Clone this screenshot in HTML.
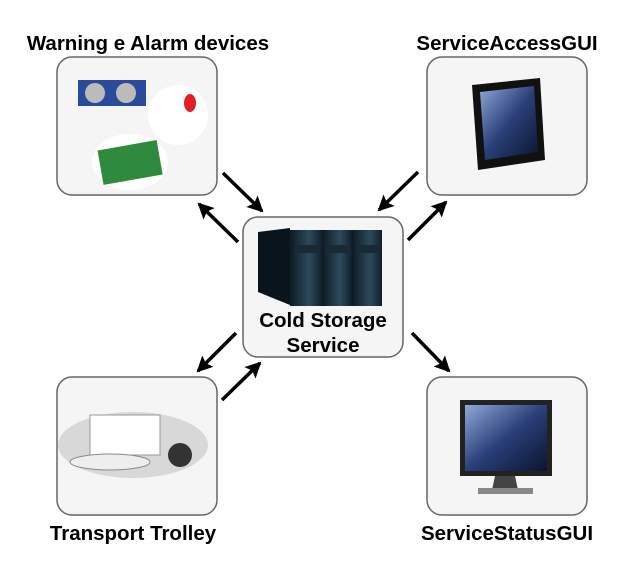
<!DOCTYPE html>
<html><head><style>
body{margin:0;width:630px;height:572px;background:#fff;overflow:hidden;font-family:"Liberation Sans",sans-serif;}
</style></head><body>
<svg width="630" height="572" xmlns="http://www.w3.org/2000/svg">
<defs>
<marker id="a" markerWidth="16" markerHeight="16" refX="14" refY="8" orient="auto" markerUnits="userSpaceOnUse" viewBox="0 0 16 16"><path d="M0,0 L16,8 L0,16 L3,8 z" fill="#000"/></marker>
<linearGradient id="scr" x1="0" y1="0" x2="1" y2="1"><stop offset="0" stop-color="#8fa8d8"/><stop offset="0.5" stop-color="#2a3f78"/><stop offset="1" stop-color="#0b1430"/></linearGradient>
<linearGradient id="srv" x1="0" y1="0" x2="1" y2="0"><stop offset="0" stop-color="#0d1a24"/><stop offset="0.6" stop-color="#2d4a5c"/><stop offset="1" stop-color="#10202a"/></linearGradient>
</defs>
<g fill="#f5f5f5" stroke="#666" stroke-width="1.5">
<rect x="57" y="57" width="160" height="138" rx="15"/>
<rect x="427" y="57" width="160" height="138" rx="15"/>
<rect x="243" y="217" width="160" height="140" rx="15"/>
<rect x="57" y="377" width="160" height="138" rx="15"/>
<rect x="427" y="377" width="160" height="138" rx="15"/>
</g>
<g stroke="#000" stroke-width="3.5" marker-end="url(#a)">
<line x1="223" y1="173" x2="262" y2="211"/>
<line x1="238" y1="242" x2="199" y2="204"/>
<line x1="418" y1="172" x2="379" y2="210"/>
<line x1="408" y1="240" x2="446" y2="202"/>
<line x1="236" y1="333" x2="198" y2="371"/>
<line x1="222" y1="400" x2="260" y2="363"/>
<line x1="412" y1="333" x2="449" y2="371"/>
</g>
<g>
<polygon points="258,232 290,228 290,305 258,292" fill="#0a141c"/>
<rect x="290" y="230" width="32" height="76" fill="url(#srv)"/>
<rect x="322" y="230" width="30" height="76" fill="url(#srv)"/>
<rect x="352" y="230" width="30" height="76" fill="url(#srv)"/>
<rect x="294" y="245" width="24" height="8" fill="#1a2a35"/>
<rect x="326" y="245" width="22" height="8" fill="#1a2a35"/>
<rect x="356" y="245" width="22" height="8" fill="#1a2a35"/>
</g>
<text x="323" y="327" font-size="20.5" font-weight="bold" text-anchor="middle">Cold Storage</text>
<text x="323" y="352" font-size="20.5" font-weight="bold" text-anchor="middle">Service</text>
<polygon points="472,85 540,78 545,160 478,170" fill="#111"/>
<polygon points="480,92 534,86 538,152 485,160" fill="url(#scr)"/>
<rect x="460" y="400" width="92" height="76" fill="#222"/>
<rect x="465" y="405" width="82" height="66" fill="url(#scr)"/>
<polygon points="495,476 515,476 518,490 492,490" fill="#444"/>
<rect x="478" y="488" width="55" height="6" fill="#888"/>
<ellipse cx="133" cy="445" rx="75" ry="33" fill="#d8d8d8"/>
<rect x="90" y="415" width="70" height="40" fill="#fff" stroke="#999"/>
<circle cx="180" cy="455" r="12" fill="#333"/>
<ellipse cx="110" cy="462" rx="40" ry="8" fill="#eee" stroke="#888"/>
<rect x="78" y="80" width="68" height="26" fill="#2a4a9a"/>
<circle cx="95" cy="93" r="10" fill="#bbb"/><circle cx="126" cy="93" r="10" fill="#bbb"/>
<circle cx="178" cy="115" r="30" fill="#fff"/>
<ellipse cx="190" cy="103" rx="6" ry="9" fill="#e02020"/>
<ellipse cx="130" cy="162" rx="38" ry="28" fill="#fff"/>
<rect x="100" y="145" width="60" height="35" fill="#2e8b3e" transform="rotate(-10 130 162)"/>
<g font-size="20.5" font-weight="bold" text-anchor="middle">
<text x="148" y="50">Warning e Alarm devices</text>
<text x="507" y="50">ServiceAccessGUI</text>
<text x="133" y="540">Transport Trolley</text>
<text x="507" y="540">ServiceStatusGUI</text>
</g>
</svg>
</body></html>
